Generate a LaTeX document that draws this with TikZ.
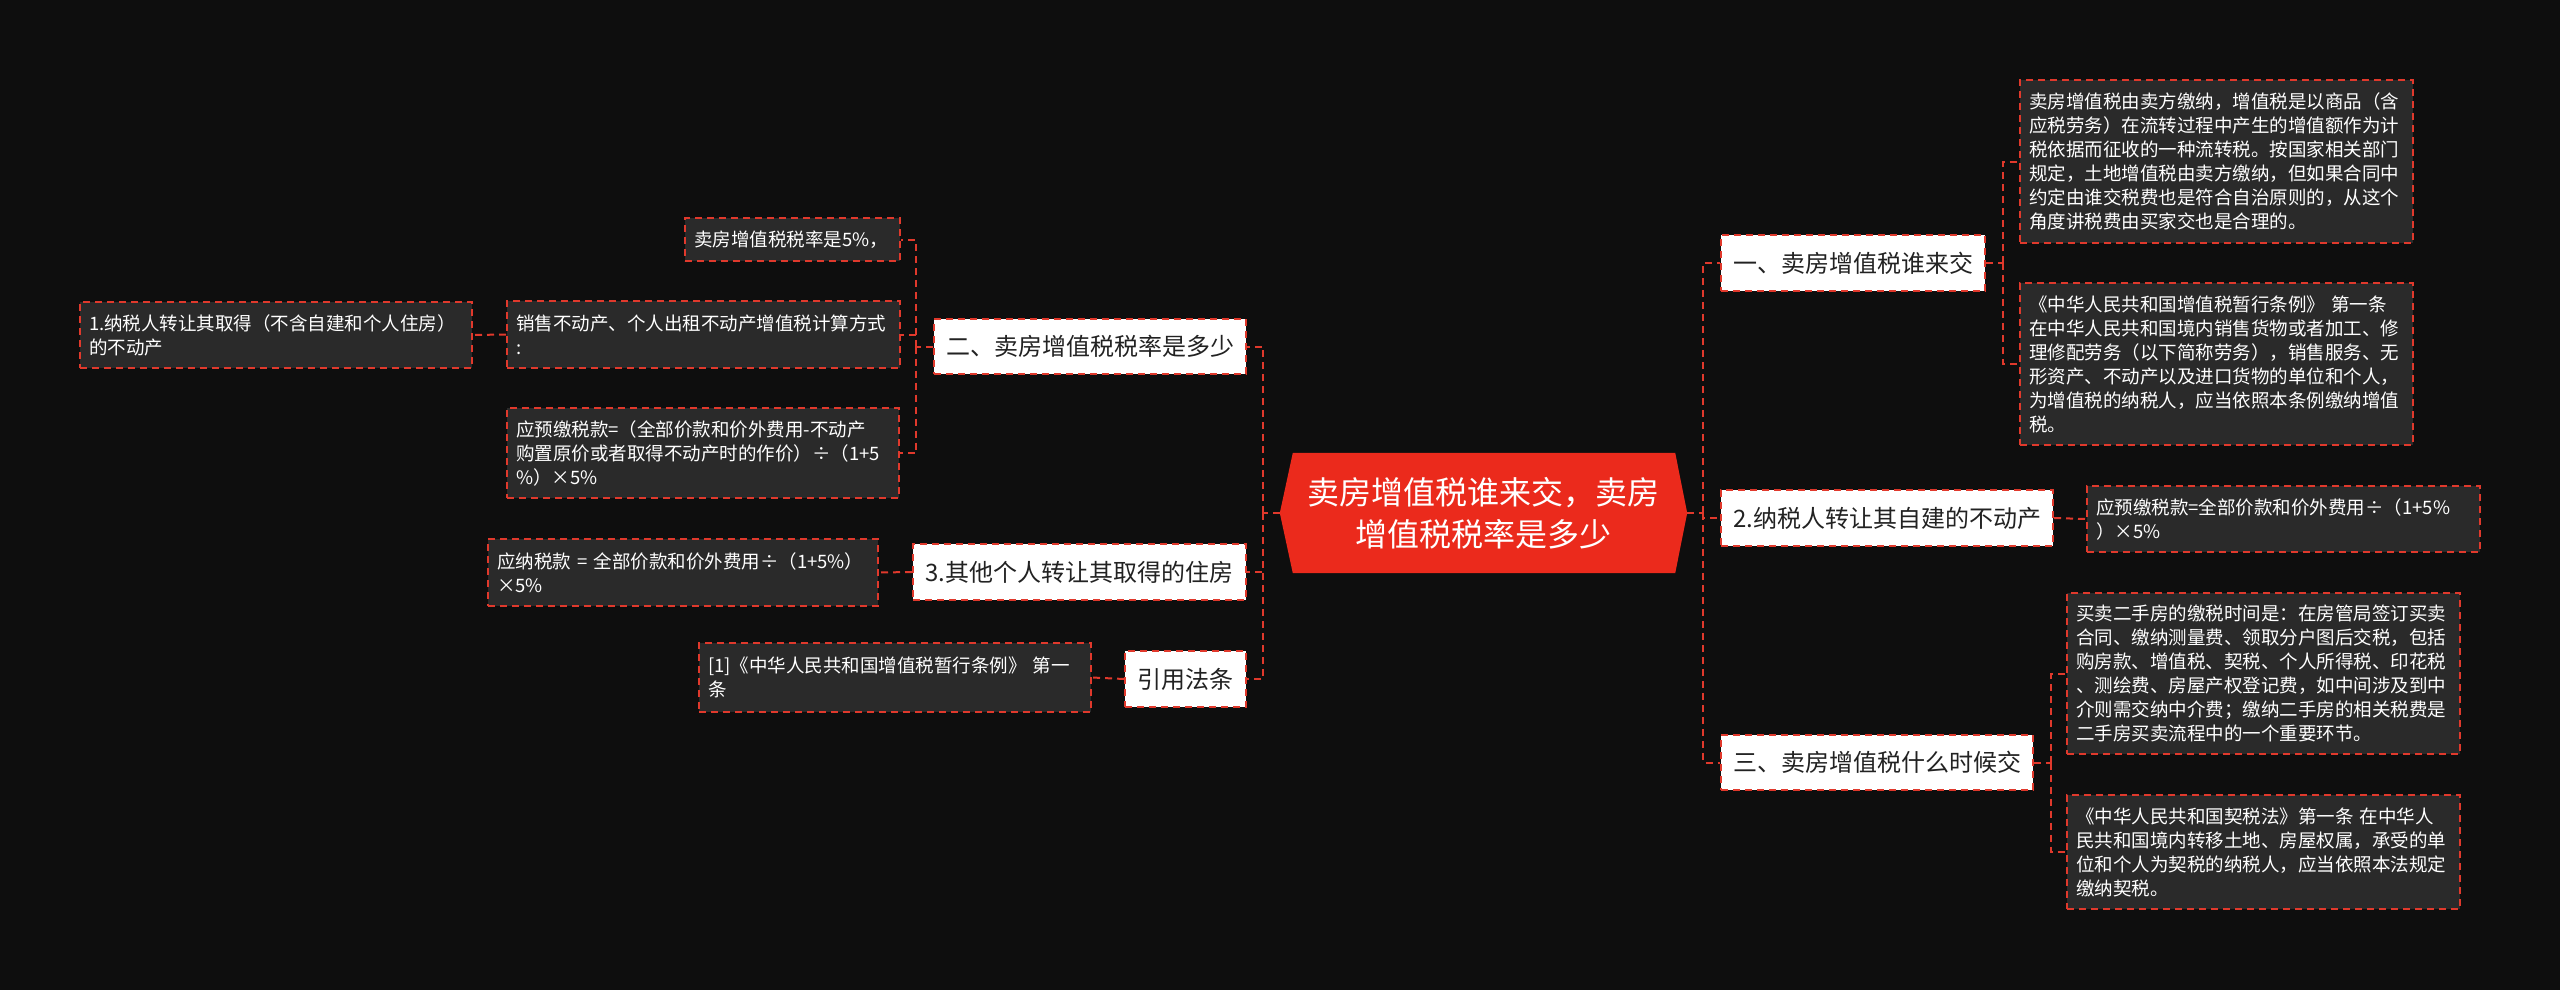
\documentclass[tikz,border=0pt]{standalone}
\usepackage{fontspec}
\setmainfont{Noto Sans CJK SC}
\usetikzlibrary{calc}
\definecolor{bgc}{HTML}{0E0E0E}
\definecolor{boxc}{HTML}{2A2A2A}
\definecolor{redl}{HTML}{E0392C}
\definecolor{rootc}{HTML}{EB2A1C}
\definecolor{darktext}{HTML}{222222}
\begin{document}
\begin{tikzpicture}[x=1pt,y=-1pt,
  conn/.style={draw=redl, line width=2pt, dash pattern=on 7pt off 5pt},
  leaf/.style={conn, fill=boxc, text=white, font=\fontsize{18.5}{24}\selectfont,
    align=left, inner xsep=9pt, inner ysep=0pt, text width=#1},
  topic/.style={conn, fill=white, text=darktext, font=\fontsize{24}{30}\selectfont,
    align=center, inner sep=0pt, minimum width=#1},
  rootnode/.style={text=white, font=\fontsize{32}{42}\selectfont, align=center,
    inner sep=0pt, minimum width=407pt, minimum height=120pt}]
\useasboundingbox (0,0) rectangle (2560,990);
\fill[bgc] (0,0) rectangle (2560,990);

% root
\node[rootnode] (root) at (1483.5,513) {卖房增值税谁来交，卖房\\增值税税率是多少};
\fill[rootc] (root.west) -- ($(root.north west)+(13,0)$) -- ($(root.north east)+(-12,0)$)
  -- (root.east) -- ($(root.south east)+(-12,0)$) -- ($(root.south west)+(13,0)$) -- cycle;
\node[rootnode] at (1483.5,513) {卖房增值税谁来交，卖房\\增值税税率是多少};

% right topics
\node[topic=264pt, minimum height=56pt] (n1) at (1853,263) {一、卖房增值税谁来交};
\node[topic=332pt, minimum height=56pt] (n2) at (1887,518) {2.纳税人转让其自建的不动产};
\node[topic=312pt, minimum height=55pt] (n3) at (1877,762.5) {三、卖房增值税什么时候交};

% right leaves
\node[leaf=375pt, minimum height=163pt] (a1) at (2216.5,161.5) {卖房增值税由卖方缴纳，增值税是以商品（含\\应税劳务）在流转过程中产生的增值额作为计\\税依据而征收的一种流转税。按国家相关部门\\规定，土地增值税由卖方缴纳，但如果合同中\\约定由谁交税费也是符合自治原则的，从这个\\角度讲税费由买家交也是合理的。};
\node[leaf=375pt, minimum height=162pt] (a2) at (2216.5,364) {《中华人民共和国增值税暂行条例》 第一条\\在中华人民共和国境内销售货物或者加工、修\\理修配劳务（以下简称劳务），销售服务、无\\形资产、不动产以及进口货物的单位和个人，\\为增值税的纳税人，应当依照本条例缴纳增值\\税。};
\node[leaf=375pt, minimum height=66pt] (b1) at (2283.5,519) {应预缴税款=全部价款和价外费用÷（1+5\%\\）×5\%};
\node[leaf=375pt, minimum height=161pt] (c1) at (2263.5,673.5) {买卖二手房的缴税时间是：在房管局签订买卖\\合同、缴纳测量费、领取分户图后交税，包括\\购房款、增值税、契税、个人所得税、印花税\\、测绘费、房屋产权登记费，如中间涉及到中\\介则需交纳中介费；缴纳二手房的相关税费是\\二手房买卖流程中的一个重要环节。};
\node[leaf=375pt, minimum height=114pt] (c2) at (2263.5,852) {《中华人民共和国契税法》第一条 在中华人\\民共和国境内转移土地、房屋权属，承受的单\\位和个人为契税的纳税人，应当依照本法规定\\缴纳契税。};

% left topics
\node[topic=312pt, minimum height=55pt] (l1) at (1090,346.5) {二、卖房增值税税率是多少};
\node[topic=333pt, minimum height=56pt] (l2) at (1079.5,572) {3.其他个人转让其取得的住房};
\node[topic=121pt, minimum height=56pt] (l3) at (1185.5,679) {引用法条};

% left leaves
\node[leaf=197pt, minimum height=43pt] (d1) at (792.5,239.5) {卖房增值税税率是5\%，};
\node[leaf=375pt, minimum height=67pt] (d2) at (703.5,334.5) {销售不动产、个人出租不动产增值税计算方式\\:};
\node[leaf=374pt, minimum height=90pt] (d3) at (703,453) {应预缴税款=（全部价款和价外费用-不动产\\购置原价或者取得不动产时的作价）÷（1+5\\\%）×5\%};
\node[leaf=374pt, minimum height=66pt] (e1) at (276,335) {1.纳税人转让其取得（不含自建和个人住房）\\的不动产};
\node[leaf=372pt, minimum height=67pt] (f1) at (683,572.5) {应纳税款 = 全部价款和价外费用÷（1+5\%）\\×5\%};
\node[leaf=374pt, minimum height=69pt] (g1) at (895,677.5) {{[1]}《中华人民共和国增值税暂行条例》 第一\\条};

% junctions
\coordinate (rj) at (1703,513);
\coordinate (lj) at (1263,513);
\coordinate (n1j) at (2003,263);
\coordinate (n3j) at (2051,762.5);
\coordinate (l1j) at (916,346.5);

% connectors right
\draw[conn] (root.east) -- (rj);
\draw[conn] (rj) |- (n1.west);
\draw[conn] (rj) |- (n2.west);
\draw[conn] (rj) |- (n3.west);
\draw[conn] (n1.east) -- (n1j);
\draw[conn] (n1j) |- (a1.west);
\draw[conn] (n1j) |- (a2.west);
\draw[conn] (n2.east) -- (b1.west);
\draw[conn] (n3.east) -- (n3j);
\draw[conn] (n3j) |- (c1.west);
\draw[conn] (n3j) |- (c2.west);

% connectors left
\draw[conn] (root.west) -- (lj);
\draw[conn] (lj) |- (l1.east);
\draw[conn] (lj) |- (l2.east);
\draw[conn] (lj) |- (l3.east);
\draw[conn] (l1.west) -- (l1j);
\draw[conn] (l1j) |- (d1.east);
\draw[conn] (l1j) |- (d2.east);
\draw[conn] (l1j) |- (d3.east);
\draw[conn] (d2.west) -- (e1.east);
\draw[conn] (l2.west) -- (f1.east);
\draw[conn] (l3.west) -- (g1.east);
\end{tikzpicture}
\end{document}
